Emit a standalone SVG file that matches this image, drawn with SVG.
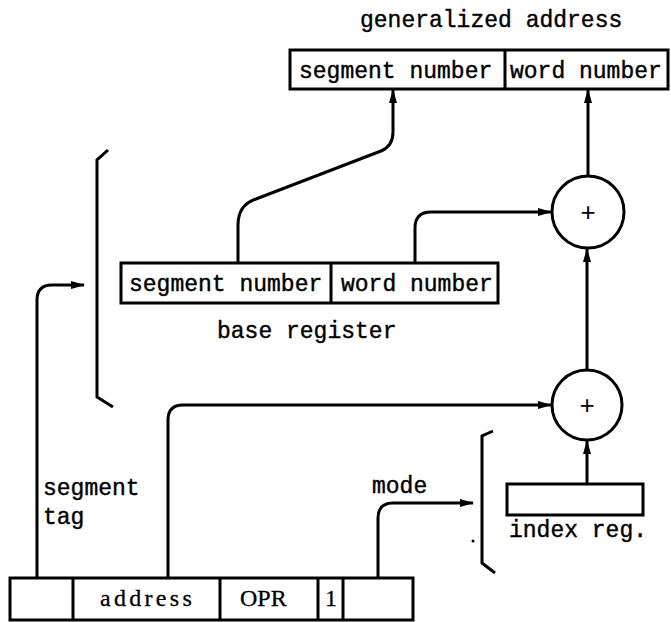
<svg xmlns="http://www.w3.org/2000/svg" width="671" height="622" viewBox="0 0 671 622">
<style>
.box{fill:#fff;stroke:#000;stroke-width:3}
.ln{fill:none;stroke:#000;stroke-width:3}
.wire{fill:none;stroke:#000;stroke-width:3;marker-end:url(#ah)}
.t{font-family:"Liberation Mono","DejaVu Sans Mono",monospace;font-size:23px;fill:#000;stroke:#000;stroke-width:0.4}
.s{font-family:"Liberation Serif","Times New Roman",serif;font-size:24px;fill:#000;stroke:#000;stroke-width:0.3}
.p{font-family:"Liberation Sans",Arial,sans-serif;font-size:26px;fill:#000;text-anchor:middle}
</style>
<defs>
<marker id="ah" markerWidth="14" markerHeight="10" refX="13" refY="5" orient="auto" markerUnits="userSpaceOnUse">
<path d="M0,1 L14,5 L0,9 Z" fill="#000"/>
</marker>
</defs>
<rect width="671" height="622" fill="#fff"/>

<g id="generalized-address">
<text class="t" x="360" y="27">generalized address</text>
<rect class="box" x="290" y="50" width="378" height="39"/>
<line class="ln" x1="505" y1="50" x2="505" y2="89"/>
<text class="t" x="299" y="78">segment number</text>
<text class="t" x="510" y="78">word number</text>
</g>

<g id="base-register">
<rect class="box" x="121" y="263" width="377" height="40"/>
<line class="ln" x1="331" y1="263" x2="331" y2="303"/>
<text class="t" x="129" y="291">segment number</text>
<text class="t" x="341" y="291">word number</text>
<text class="t" x="217" y="338">base register</text>
</g>

<g id="adder-upper">
<circle class="box" cx="588" cy="212" r="36"/>
<text class="p" x="588" y="221">+</text>
</g>

<g id="adder-lower">
<circle class="box" cx="587" cy="405" r="35"/>
<text class="p" x="587" y="414">+</text>
</g>

<g id="index-register">
<rect class="box" x="507" y="484" width="136" height="31"/>
<text class="t" x="509" y="537">index reg.</text>
</g>

<g id="instruction">
<rect class="box" x="10" y="578" width="403" height="42"/>
<line class="ln" x1="73" y1="578" x2="73" y2="620"/>
<line class="ln" x1="220" y1="578" x2="220" y2="620"/>
<line class="ln" x1="318" y1="578" x2="318" y2="620"/>
<line class="ln" x1="343" y1="578" x2="343" y2="620"/>
<text class="s" x="100" y="606" letter-spacing="3.3">address</text>
<text class="s" x="240" y="606">OPR</text>
<text class="s" x="331" y="606" text-anchor="middle">1</text>
</g>

<g id="brackets">
<path class="ln" d="M108,150 L97,160 L97,397 L113,407"/>
<path class="ln" d="M493,431 L482,436 L482,563 L495,573"/>
<circle cx="473" cy="541" r="1.5" fill="#000"/>
</g>

<g id="labels">
<text class="t" x="43" y="495">segment</text>
<text class="t" x="43" y="524">tag</text>
<text class="t" x="372" y="493">mode</text>
</g>

<g id="connectors">
<path class="wire" d="M238,263 L238,225 Q238,205 256,199 L381,151 Q393,146 393,132 L393,90"/>
<path class="wire" d="M415,263 L415,228 Q415,212 431,212 L551,212"/>
<path class="wire" d="M588,176 L588,90"/>
<path class="wire" d="M587,370 L587,249"/>
<path class="wire" d="M587,484 L587,441"/>
<path class="wire" d="M168,578 L168,420 Q168,405 183,405 L551,405"/>
<path class="wire" d="M37,578 L37,300 Q37,285 52,285 L84,285"/>
<path class="wire" d="M378,578 L378,518 Q378,503 393,503 L473,503"/>
</g>
</svg>
